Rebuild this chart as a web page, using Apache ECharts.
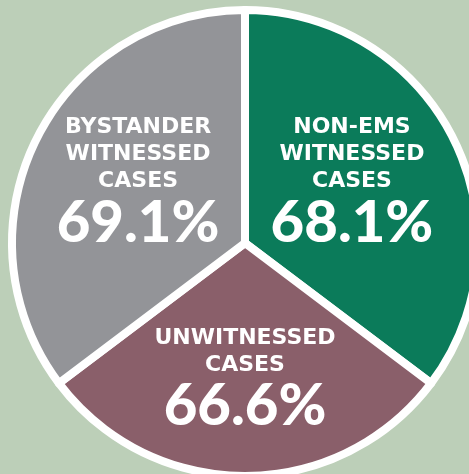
<!DOCTYPE html>
<html>
<head>
<meta charset="utf-8">
<script src="https://cdn.jsdelivr.net/npm/echarts@6/dist/echarts.min.js"></script>
<style>
html, body { margin: 0; padding: 0; background: #bccfb8; }
#pie { width: 469px; height: 474px; }
</style>
</head>
<body>
<div id="pie"></div>
<script>
// groups, clockwise from 12 o'clock
var groups = ['NON-EMS\nWITNESSED\nCASES', 'UNWITNESSED\nCASES', 'BYSTANDER\nWITNESSED\nCASES'];
// survival rates shown in each slice
var rates = [68.1, 66.6, 69.1];
// slice sizes as drawn (degrees)
var sliceAngles = [127, 106, 127];
var colors = ['#0b7b5a', '#8a5f6a', '#939498'];
// nudge label blocks (padding: top, bottom)
var pads = [[0, 14], [34, 0], [0, 14]];

var myChart = echarts.init(document.getElementById('pie'));

var data = groups.map(function (g, i) {
    return {
        name: g,
        value: sliceAngles[i],
        rate: rates[i],
        itemStyle: { color: colors[i] },
        label: { padding: [pads[i][0], 0, pads[i][1], 0] }
    };
});

var option = {
    backgroundColor: '#bccfb8',
    animation: false,
    series: [
        {
            type: 'pie',
            center: [245, 243],
            radius: 233,
            startAngle: 90,
            clockwise: true,
            avoidLabelOverlap: false,
            silent: true,
            itemStyle: {
                borderColor: '#ffffff',
                borderWidth: 8
            },
            label: {
                show: true,
                position: 'inside',
                color: '#ffffff',
                formatter: function (p) {
                    var lines = p.name.split('\n').map(function (l) {
                        return '{t|' + l + '}';
                    });
                    return lines.join('\n') + '\n{v|' + p.data.rate.toFixed(1) + '%}';
                },
                rich: {
                    t: { fontSize: 22, fontWeight: 'bold', lineHeight: 27, color: '#fff', fontFamily: 'DejaVu Sans' },
                    v: { fontSize: 58, fontWeight: 900, lineHeight: 56, color: '#fff', fontFamily: 'Lato' }
                }
            },
            labelLine: { show: false },
            data: data
        }
    ]
};

myChart.setOption(option);
</script>
</body>
</html>
